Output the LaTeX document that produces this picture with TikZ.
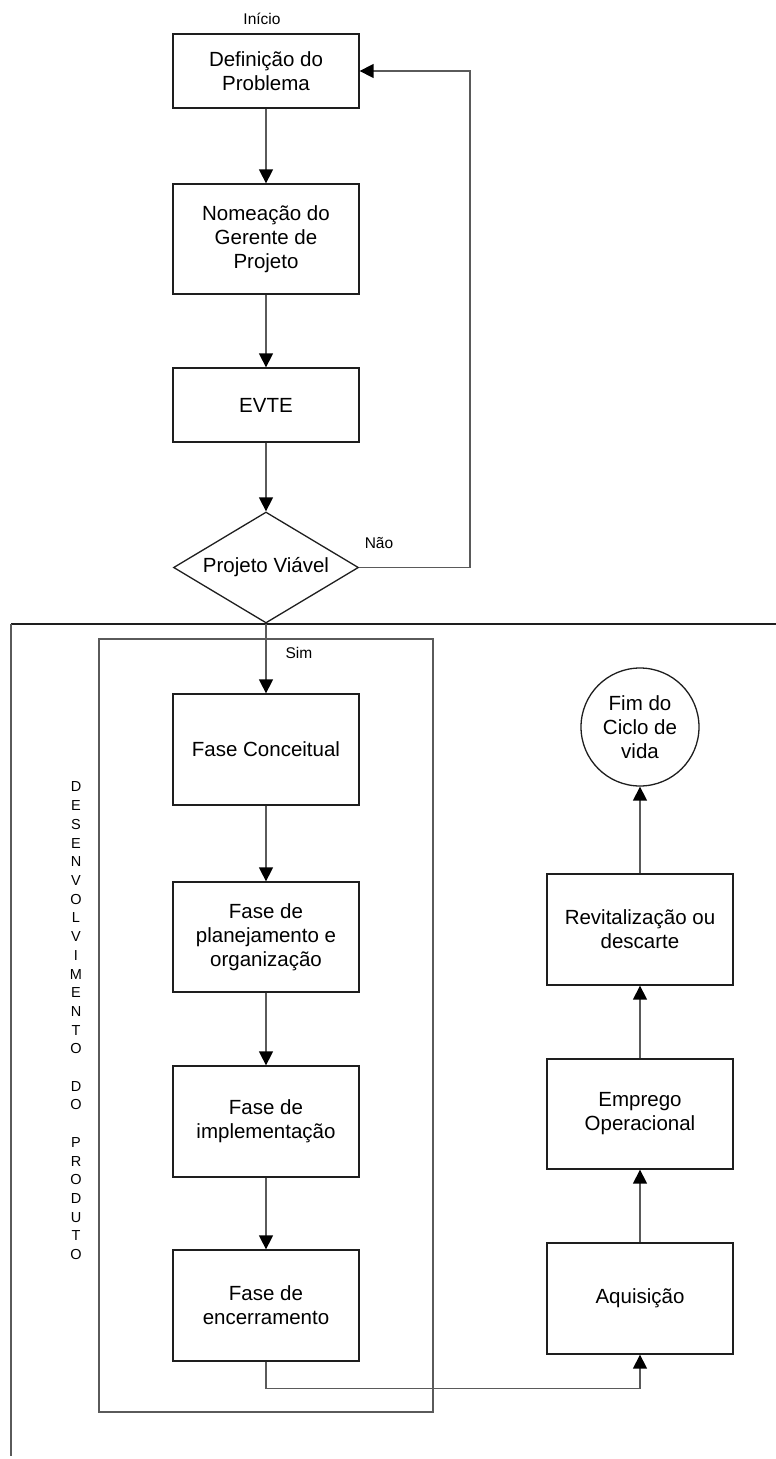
\documentclass[tikz,border=0pt]{standalone}
\usepackage{fontspec}
\setmainfont{Liberation Sans}
\usetikzlibrary{shapes.geometric,arrows.meta}

\definecolor{edge}{HTML}{1E1E1E}
\definecolor{wire}{HTML}{5A5A5A}

\tikzset{
  stepbox/.style={draw=edge, line width=1.3pt, rectangle, inner sep=0pt,
    minimum width=186pt, minimum height=111pt, align=center,
    font=\fontsize{20.5}{24}\selectfont},
  shortbox/.style={stepbox, minimum height=74pt},
  decision/.style={draw=edge, line width=1.3pt, diamond, aspect=1.667, inner sep=0pt,
    minimum width=185pt, minimum height=111pt,
    font=\fontsize{20.5}{24}\selectfont},
  endstate/.style={draw=edge, line width=1.3pt, circle, inner sep=0pt,
    minimum size=118pt, align=center, font=\fontsize{20.5}{24}\selectfont},
  flow/.style={draw=wire, line width=1.4pt,
    -{Triangle[width=14pt,length=14pt]}, arrows={[color=black]}},
  tag/.style={inner sep=0pt, font=\fontsize{15.5}{18}\selectfont},
  vletter/.style={inner sep=0pt, font=\fontsize{14.5}{17}\selectfont},
  frame/.style={draw=wire, line width=1.3pt}
}

\begin{document}
\begin{tikzpicture}[x=1pt, y=-1pt]
  \useasboundingbox (0,0) rectangle (776,1459);

  % enclosing frames of the product development part
  \draw[line width=1.3pt, draw=edge] (776,624) -- (11,624);
  \draw[frame] (11,624) -- (11,1456);
  \draw[frame] (99,639) rectangle (433,1412);

  % main column
  \node[tag] (inicio) at (262,19) {Início};
  \node[shortbox] (defprob) at (266,71) {Definição do\\Problema};
  \node[stepbox, minimum height=110pt] (gerente) at (266,239) {Nomeação do\\Gerente de\\Projeto};
  \node[shortbox] (evte) at (266,405) {EVTE};
  \node[decision] (viavel) at (266,567.5) {Projeto Viável};
  \node[stepbox] (conceit) at (266,749.5) {Fase Conceitual};
  \node[stepbox, minimum height=110pt] (planej) at (266,937) {Fase de\\planejamento e\\organização};
  \node[stepbox] (implem) at (266,1121.5) {Fase de\\implementação};
  \node[stepbox] (encerr) at (266,1305.5) {Fase de\\encerramento};

  % right column
  \node[endstate] (fim) at (640,727) {Fim do\\Ciclo de\\vida};
  \node[stepbox] (revital) at (640,929.5) {Revitalização ou\\descarte};
  \node[stepbox, minimum height=110pt] (emprego) at (640,1114) {Emprego\\Operacional};
  \node[stepbox] (aquis) at (640,1298.5) {Aquisição};

  % branch labels
  \node[tag] (nao) at (379,543) {Não};
  \node[tag] (sim) at (299,653) {Sim};

  % vertical caption
  \foreach \ch [count=\i from 0] in {D,E,S,E,N,V,O,L,V,I,M,E,N,T,O,{},D,O,{},P,R,O,D,U,T,O}
    \node[vletter] (cap\i) at (76,787+18.7*\i) {\ch};

  % connectors
  \draw[flow] (defprob) -- (gerente);
  \draw[flow] (gerente) -- (evte);
  \draw[flow] (evte) -- (viavel);
  \draw[flow] (viavel.east) -- (470,567.5) |- (defprob.east);
  \draw[flow] (viavel) -- (conceit);
  \draw[flow] (conceit) -- (planej);
  \draw[flow] (planej) -- (implem);
  \draw[flow] (implem) -- (encerr);
  \draw[flow] (encerr.south) -- ++(0,27) -| (aquis.south);
  \draw[flow] (aquis) -- (emprego);
  \draw[flow] (emprego) -- (revital);
  \draw[flow] (revital) -- (fim);
\end{tikzpicture}
\end{document}
